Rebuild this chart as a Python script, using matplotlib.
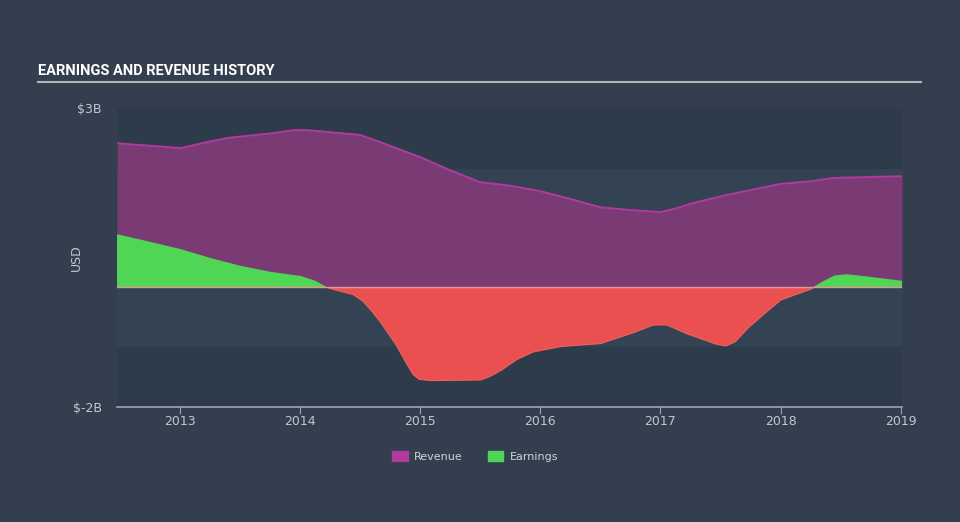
import matplotlib
matplotlib.use("Agg")
import matplotlib.pyplot as plt
from matplotlib.patches import Patch

# data (billions USD)
rev_years = [2012.48, 2013.01, 2013.23, 2013.40, 2013.78, 2013.95, 2014.06, 2014.23,
             2014.50, 2014.67, 2014.84, 2015.00, 2015.25, 2015.50, 2015.75, 2016.00,
             2016.25, 2016.50, 2016.77, 2017.00, 2017.11, 2017.27, 2017.56, 2018.00,
             2018.27, 2018.44, 2019.01]
revenue = [2.41, 2.33, 2.43, 2.50, 2.58, 2.63, 2.63, 2.60,
           2.55, 2.43, 2.30, 2.18, 1.96, 1.76, 1.70, 1.61,
           1.48, 1.34, 1.29, 1.26, 1.31, 1.41, 1.55, 1.73,
           1.78, 1.83, 1.86]

earn_years = [2012.48, 2012.76, 2013.01, 2013.26, 2013.51, 2013.76, 2014.01, 2014.13,
              2014.23, 2014.34, 2014.44, 2014.52, 2014.60, 2014.67, 2014.80, 2014.88,
              2014.94, 2014.99, 2015.09, 2015.50, 2015.58, 2015.67, 2015.80, 2015.94,
              2016.17, 2016.50, 2016.77, 2016.94, 2017.05, 2017.22, 2017.46, 2017.54,
              2017.62, 2017.72, 2017.88, 2018.00, 2018.25, 2018.35, 2018.45, 2018.55,
              2018.69, 2019.01]
earnings = [0.89, 0.76, 0.64, 0.49, 0.36, 0.26, 0.19, 0.11,
            0.0, -0.06, -0.11, -0.22, -0.40, -0.58, -0.96, -1.25,
            -1.45, -1.53, -1.55, -1.54, -1.48, -1.38, -1.20, -1.07,
            -0.98, -0.93, -0.75, -0.62, -0.62, -0.77, -0.94, -0.97,
            -0.90, -0.68, -0.40, -0.20, -0.02, 0.10, 0.20, 0.22,
            0.19, 0.11]

year_ticks = [2013, 2014, 2015, 2016, 2017, 2018, 2019]

bg = "#333f4e"
fig = plt.figure(figsize=(9.6, 5.22), dpi=100, facecolor=bg)
ax = fig.add_axes([0.1219, 0.2203, 0.8177, 0.5728])
ax.set_facecolor("#344353")
ax.axhspan(2, 3, color="#2e3b4a", zorder=0)
ax.axhspan(-2, -1, color="#2e3b4a", zorder=0)

ax.fill_between(rev_years, 0, revenue, color="#7a3a74", zorder=2, linewidth=0)
ax.plot(rev_years, revenue, color="#b03a9e", lw=1.4, zorder=3)

ax.fill_between(earn_years, 0, earnings, where=[e >= 0 for e in earnings],
                interpolate=True, color="#4fd654", linewidth=0, zorder=4)
ax.fill_between(earn_years, 0, earnings, where=[e <= 0 for e in earnings],
                interpolate=True, color="#eb5050", linewidth=0.8,
                edgecolor="#f06060", zorder=4)
ax.axhline(0, color="#e8939a", lw=1, zorder=5)

ax.set_xlim(2012.48, 2019.01)
ax.set_ylim(-2, 3)
ax.set_yticks([3, -2])
ax.set_yticklabels(["$3B", "$-2B"])
ax.set_xticks(year_ticks)
ax.set_xticklabels([str(y) for y in year_ticks])
ax.tick_params(axis="y", length=0, colors="#c3c8ce", labelsize=9, pad=11)
ax.tick_params(axis="x", length=5, color="#9aa5b2", colors="#c3c8ce", labelsize=9, pad=1)
for s in ["top", "right", "left"]:
    ax.spines[s].set_visible(False)
ax.spines["bottom"].set_color("#9aa5b2")
ax.spines["bottom"].set_linewidth(1.2)
ax.set_ylabel("USD", color="#c3c8ce", fontsize=9)
ax.yaxis.set_label_coords(-0.043, 0.5)

fig.text(0.040, 0.857, "EARNINGS AND REVENUE HISTORY", color="white", fontsize=10.5,
         fontweight="bold", fontstretch="condensed", family=["Roboto", "DejaVu Sans"])
fig.add_artist(plt.Line2D([0.040, 0.959], [0.843, 0.843], color="#b2b6bb", lw=1.5))

handles = [Patch(color="#b03a9e", label="Revenue"), Patch(color="#4fd654", label="Earnings")]
leg = fig.legend(handles=handles, loc="center", bbox_to_anchor=(0.495, 0.126), ncol=2,
                 frameon=False, fontsize=8, handlelength=1.4, handleheight=1.1,
                 columnspacing=2.2, handletextpad=0.6)
for t in leg.get_texts():
    t.set_color("#d0d4d8")

fig.savefig("out.png", dpi=100, facecolor=bg)
